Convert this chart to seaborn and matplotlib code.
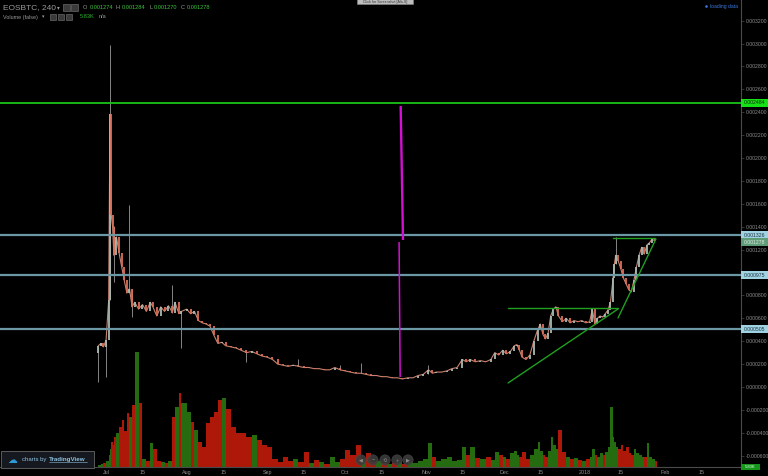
import numpy as np
import pandas as pd
import matplotlib
matplotlib.use("Agg")
import matplotlib.pyplot as plt
from matplotlib.patches import Rectangle, Circle
import seaborn as sns

# ---------------- data ----------------
start_date = "2017-07-01"
price_days = [-3, -2, -1, 0, 1, 1.5, 2, 2.5, 3, 4,
              5, 6, 7, 8, 9, 10, 11, 12.5, 14, 15.5,
              17, 18, 19.5, 21, 22.5, 24, 25.5, 26.5, 28, 29,
              31, 32.5, 34, 35.5, 37, 38.5, 40, 41.5, 43, 44.5,
              46, 48, 50, 52, 54, 56, 58, 60, 62, 64,
              66, 68, 70, 72, 74, 76, 78, 80, 82, 84,
              86, 88, 90, 92, 94, 96, 98, 100, 102, 104,
              106, 108, 110, 112, 114, 116, 118, 120, 122, 124,
              125.5, 127, 129, 131, 133, 135, 137, 138.5, 140, 142,
              144, 146, 148, 149.5, 151, 152.5, 154, 155.5, 157, 158,
              159, 160, 161.5, 163, 164.5, 166, 167, 168, 169, 170,
              171, 172, 173, 174, 175.5, 177, 178.5, 180, 181.5, 183,
              184.5, 186, 187, 188, 189, 190, 191, 192, 193, 194,
              195, 195.5, 196, 197, 198, 199, 200, 201, 202, 203,
              204, 205, 206, 207, 208, 209, 210, 211]
price_close = [0.00036, 0.00038, 0.00035, 0.00041, 0.00076, 0.00238, 0.00150, 0.00140, 0.00115, 0.00131,
               0.00117, 0.00105, 0.00093, 0.00082, 0.00086, 0.00070, 0.00074, 0.00068, 0.00072, 0.00066,
               0.00074, 0.00070, 0.00062, 0.00070, 0.00066, 0.00071, 0.00065, 0.00074, 0.00064, 0.00066,
               0.00068, 0.00064, 0.00066, 0.00058, 0.00056, 0.00055, 0.00053, 0.00045, 0.00038, 0.00039,
               0.00036, 0.00035, 0.00034, 0.00032, 0.00030, 0.00031, 0.00029, 0.00027, 0.00026, 0.00024,
               0.00020, 0.00019, 0.00018, 0.00019, 0.00018, 0.00017, 0.00017, 0.00016, 0.00016, 0.00015,
               0.00015, 0.00017, 0.00015, 0.00014, 0.00013, 0.00012, 0.00012, 0.00011, 0.00010, 0.00010,
               0.00009, 0.00009, 0.00008, 0.00008, 0.00007, 0.00008, 0.00008, 0.00010, 0.00011, 0.00015,
               0.00012, 0.00013, 0.00013, 0.00014, 0.00016, 0.00017, 0.00024, 0.00022, 0.00024, 0.00022,
               0.00023, 0.00022, 0.00024, 0.00030, 0.00028, 0.00032, 0.00029, 0.00031, 0.00036, 0.00037,
               0.00032, 0.00026, 0.00024, 0.00028, 0.00040, 0.00050, 0.00055, 0.00046, 0.00042, 0.00047,
               0.00062, 0.00068, 0.00070, 0.00062, 0.00057, 0.00060, 0.00056, 0.00058, 0.00057, 0.00058,
               0.00056, 0.00057, 0.00068, 0.00055, 0.00060, 0.00062, 0.00061, 0.00064, 0.00067, 0.00074,
               0.00095, 0.00107, 0.00115, 0.00110, 0.00103, 0.00095, 0.00090, 0.00085, 0.00083, 0.00093,
               0.00105, 0.00115, 0.00122, 0.00116, 0.00124, 0.00126, 0.00129, 0.001278]
first_open = 0.00030
volume_k = [2, 3, 4, 6, 12, 18, 25, 22, 30, 34,
            40, 47, 36, 54, 50, 62, 115, 64, 8, 6,
            24, 18, 6, 5, 4, 6, 50, 60, 74, 64,
            55, 45, 37, 25, 20, 44, 50, 55, 67, 69,
            58, 40, 34, 34, 30, 32, 27, 22, 20, 8,
            5, 10, 6, 8, 5, 15, 4, 7, 5, 3,
            10, 5, 8, 17, 12, 22, 8, 14, 5, 6,
            4, 3, 4, 5, 3, 5, 4, 6, 8, 24,
            10, 6, 8, 10, 6, 7, 20, 12, 20, 9,
            8, 10, 7, 15, 12, 10, 8, 14, 16, 12,
            10, 15, 8, 12, 18, 25, 16, 12, 10, 16,
            30, 22, 18, 37, 15, 10, 8, 9, 7, 6,
            8, 10, 18, 12, 10, 14, 12, 15, 20, 60,
            30, 25, 20, 18, 22, 16, 20, 14, 12, 18,
            14, 12, 10, 10, 24, 10, 8, 6]

# wick extremes of notable candles
wick_days = [-3, 0, 1.5, 3, 9, 10, 25.5, 29, 54, 74, 90, 98, 124, 196]
wick_low = [0.000044, 0.00009, 0.00076, 0.00092, 0.00082, 0.00061, 0.00065, 0.00034,
            0.00022, 0.00018, 0.00015, 0.00012, 0.00011, 0.00107]
wick_high = [0.00036, 0.00041, 0.00299, 0.00141, 0.00159, 0.00086, 0.00089, 0.00066,
             0.00031, 0.00024, 0.00019, 0.00021, 0.00019, 0.00131]

# drawn horizontal levels
green_level = 0.002484
blue_levels = [0.001326, 0.000975, 0.000505]
blue_labels = ["0.001326", "0.000975", "0.000505"]
last_price = 0.001278

# drawn trend lines (day offset pairs, value pairs)
trend_days = [[154.6, 196.9], [154.6, 196.9], [195.0, 211.2], [196.9, 211.5]]
trend_vals = [[0.000687, 0.000687], [0.000035, 0.000681], [0.001299, 0.001299], [0.000603, 0.001293]]
# magenta drawn lines
magenta_days = [[113.3, 114.2], [112.7, 113.1]]
magenta_vals = [[0.002454, 0.001284], [0.001266, 0.000087]]
magenta_widths = [1.7, 1.1]

price_ticks = [-0.0006, -0.0004, -0.0002, 0.0, 0.0002, 0.0004, 0.0006, 0.0008, 0.0010,
               0.0012, 0.0014, 0.0016, 0.0018, 0.0020, 0.0022, 0.0024, 0.0026, 0.0028,
               0.0030, 0.0032]
hidden_tick_labels = [0.0010]   # covered by the 0.000975 level label
xtick_dates = ["2017-07-01", "2017-07-15", "2017-08-01", "2017-08-15", "2017-09-01",
               "2017-09-15", "2017-10-01", "2017-10-15", "2017-11-01", "2017-11-15",
               "2017-12-01", "2017-12-15", "2018-01-01", "2018-01-15", "2018-02-01",
               "2018-02-15"]
xtick_labels = ["Jul", "15", "Aug", "15", "Sep", "15", "Oct", "15", "Nov", "15",
                "Dec", "15", "2018", "15", "Feb", "15"]
view_days = [-40.8, 244.2]
view_price = [-0.000699, 0.003380]
volume_view_max = 467

# ---------------- style ----------------
sns.set_theme(style="dark", rc={"axes.facecolor": "black", "figure.facecolor": "black",
                                "axes.grid": False})
plt.rcParams["font.family"] = ["Liberation Sans", "DejaVu Sans"]

W, H = 768, 476
fig = plt.figure(figsize=(W / 100, H / 100), dpi=100, facecolor="black")
rect = [0, (H - 467) / H, 741 / W, 467 / H]
ax = fig.add_axes(rect)
axv = fig.add_axes(rect, sharex=ax)
axv.set_zorder(1)
ax.set_zorder(2)
ax.patch.set_visible(False)
axv.patch.set_facecolor("black")

base = pd.Timestamp(start_date)


def to_dates(days):
    return base + pd.to_timedelta(np.asarray(days, dtype=float), unit="D")


dates = to_dates(price_days)
close = np.asarray(price_close)
opens = np.concatenate([[first_open], close[:-1]])
up = close >= opens
UP_C, DN_C = "#a9bab2", "#dc6f58"

# ---- volume ----
dd = np.diff(np.asarray(price_days, dtype=float))
widths = np.concatenate([dd, dd[-1:]])
vcols = np.where(up, "#2a7c12", "#c61c0a")
axv.bar(dates, volume_k, width=widths, color=vcols, linewidth=0, align="edge", alpha=0.88)
axv.set_ylim(0, volume_view_max)
axv.axis("off")

# ---- price ----
ax.vlines(to_dates(wick_days), wick_low, wick_high, colors="#858585", lw=0.7, zorder=2)
sns.lineplot(x=dates, y=close, ax=ax, color="#c98270", lw=0.8, zorder=3)
ax.vlines(dates, np.minimum(opens, close), np.maximum(opens, close),
          colors=np.where(up, UP_C, DN_C), lw=1.3, zorder=4)

ax.axhline(green_level, color="#19c219", lw=1.3, zorder=5)
for v in blue_levels:
    ax.axhline(v, color="#6b98a4", lw=1.6, zorder=5)
for d, v in zip(trend_days, trend_vals):
    ax.plot(to_dates(d), v, color="#1fa01f", lw=1.0, zorder=6)
for d, v, w in zip(magenta_days, magenta_vals, magenta_widths):
    ax.plot(to_dates(d), v, color="#d410d4", lw=w, zorder=6, solid_capstyle="butt")

ax.set_xlim(to_dates(view_days))
ax.set_ylim(*view_price)
ax.set_xlabel("")
ax.set_ylabel("")

# axes decoration
for s in ["top", "left"]:
    ax.spines[s].set_visible(False)
for s in ["right", "bottom"]:
    ax.spines[s].set_color("#4a4a4a")
    ax.spines[s].set_linewidth(0.8)
ax.yaxis.set_ticks_position("right")
ax.set_yticks(price_ticks)
ax.set_yticklabels(["" if any(abs(t - h) < 1e-9 for h in hidden_tick_labels) else f"{t:.6f}"
                    for t in price_ticks])
ax.set_xticks(pd.to_datetime(xtick_dates))
ax.set_xticklabels(xtick_labels)
ax.tick_params(axis="y", colors="#4a4a4a", labelcolor="#8e8e8e", labelsize=3.7,
               length=2.5, width=0.5, pad=1.2, right=True, left=False)
ax.tick_params(axis="x", colors="#4a4a4a", labelcolor="#8e8e8e", labelsize=3.9,
               length=1.5, width=0.5, pad=1.0)

# price label boxes on the scale
ytr = ax.get_yaxis_transform()
box_h = 0.00007
box_w = 27 / 741


def scale_box(v, txt, bg, fg, dy=0.0):
    ax.add_patch(Rectangle((1.0, v - box_h / 2 + dy), box_w, box_h, transform=ytr,
                           facecolor=bg, edgecolor="none", clip_on=False, zorder=10))
    ax.text(1.0 + box_w / 2, v + dy, txt, transform=ytr, ha="center", va="center",
            fontsize=3.7, color=fg, clip_on=False, zorder=11)


scale_box(green_level, f"{green_level:.6f}", "#16e016", "#0a2a0a")
for v, t in zip(blue_levels, blue_labels):
    scale_box(v, t, "#9fd3e3", "#1d3340")
scale_box(last_price, f"{last_price:.6f}", "#5f9c78", "#dfeee3", dy=-0.000012)

# ---------------- overlay decorations (pixel space) ----------------
deco = fig.add_axes([0, 0, 1, 1], zorder=20)
deco.set_xlim(0, W)
deco.set_ylim(H, 0)
deco.axis("off")
deco.patch.set_visible(False)

g = "#9a9a9a"
grn = "#3cc43c"
deco.text(3, 7.5, "EOSBTC, 240", fontsize=6, color=g, va="center")
deco.text(57, 7.5, "▾", fontsize=4, color=g, va="center")
for x0 in (63, 71):
    deco.add_patch(Rectangle((x0, 4), 6.5, 6.5, facecolor="#3a3a3a", edgecolor="#7a7a7a", lw=0.4))
parts = [(83, "O", g), (89.5, "0.001274", grn), (115.5, "H", g), (122, "0.001284", grn),
         (149.5, "L", g), (153.5, "0.001270", grn), (181, "C", g), (187, "0.001278", grn)]
for x0, t, c in parts:
    deco.text(x0, 7.5, t, fontsize=4.1, color=c, va="center")
deco.text(3, 17, "Volume (false)", fontsize=3.9, color=g, va="center")
deco.text(42, 17, "▾", fontsize=3.5, color=g, va="center")
for x0 in (50, 58, 66):
    deco.add_patch(Rectangle((x0, 14), 5.5, 5.5, facecolor="#3a3a3a", edgecolor="#7a7a7a", lw=0.4))
deco.text(80, 17, "5.83K", fontsize=4.1, color="#2fb82f", va="center")
deco.text(99, 17, "n/a", fontsize=4.0, color=g, va="center")

# screenshot tooltip at top
deco.add_patch(Rectangle((357, -4), 56, 8, facecolor="#bdbdbd", edgecolor="#8a8a8a", lw=0.4))
deco.text(385, 1.5, "Click for Screenshot [Alt+S]", fontsize=2.6, color="#333333",
          ha="center", va="center")

# loading data
deco.add_patch(Circle((706.5, 6.5), 1.3, facecolor="#3b78e0", edgecolor="none"))
deco.text(709.5, 6.8, "loading data", fontsize=3.6, color="#3b78e0", va="center")

# volume scale label
deco.add_patch(Rectangle((741, 464), 18.5, 5.5, facecolor="#13961a", edgecolor="none"))
deco.text(750, 466.8, "5.83K", fontsize=3.0, color="#e8ffe8", ha="center", va="center")

# TradingView badge
deco.add_patch(Rectangle((1, 451), 93, 17, facecolor="#15181e", edgecolor="#5a5a5a", lw=0.7))
deco.text(12, 459.5, "☁", fontsize=7, color="#2e9ad6", ha="center", va="center")
deco.text(22, 459.5, "charts by", fontsize=4.3, color="#8fc4e4", va="center")
deco.text(49, 459.5, "TradingView", fontsize=4.5, color="#8fc4e4", va="center",
          fontweight="bold")
deco.plot([49, 86.5], [462.3, 462.3], color="#8fc4e4", lw=0.4)

# navigation buttons
for cx, glyph in zip((361, 373, 385, 397, 408), ("◀", "−", "⟲", "+", "▶")):
    deco.add_patch(Circle((cx, 460), 5.2, facecolor="#3c3c3c", edgecolor="#4a4a4a", lw=0.4,
                          alpha=0.9))
    deco.text(cx, 460.3, glyph, fontsize=3.6, color="#8a8a8a", ha="center", va="center")

fig.savefig("out.png", dpi=100, facecolor="black")
